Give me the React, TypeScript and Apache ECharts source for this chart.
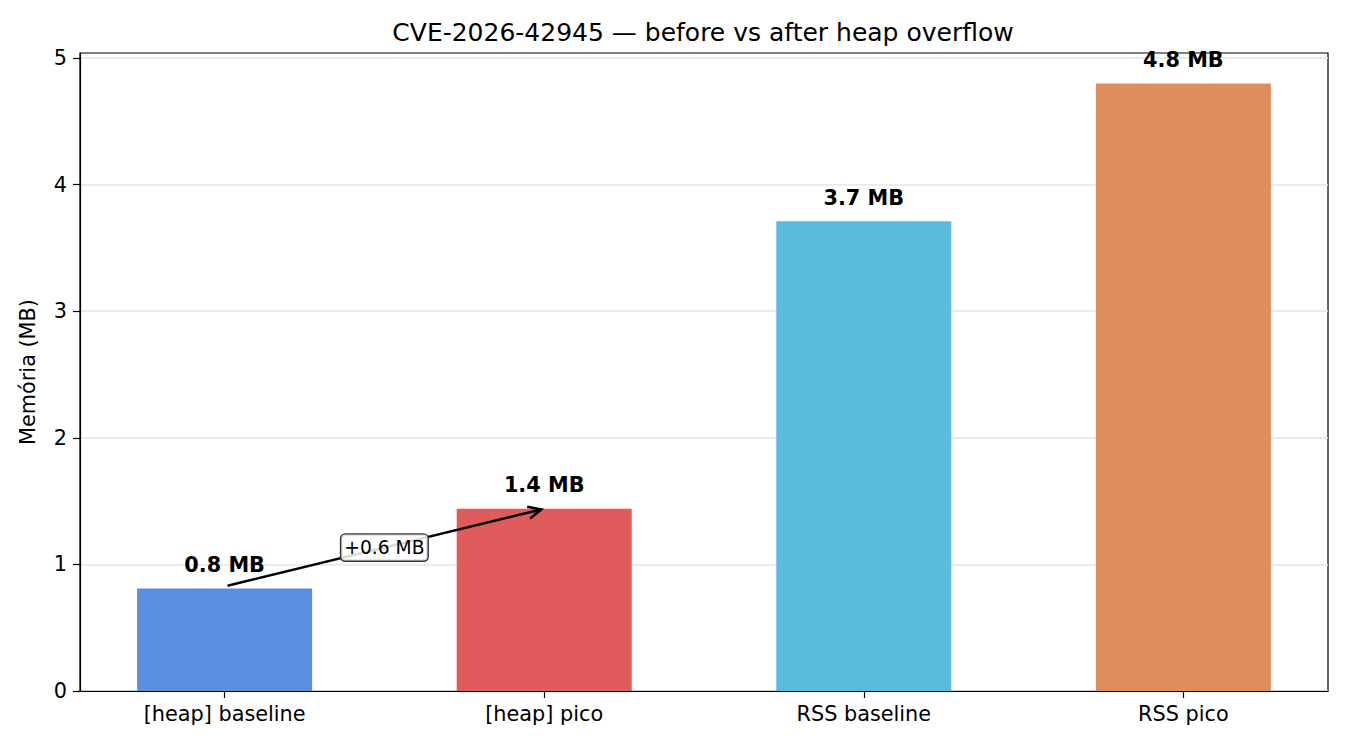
import React, { useEffect, useRef } from "react";
import * as echarts from "echarts";

const categories = ["[heap] baseline", "[heap] pico", "RSS baseline", "RSS pico"];
const values = [0.81, 1.44, 3.71, 4.8];
const barColors = ["#5B8DE0", "#E05C5C", "#5BBBDF", "#E08D5E"];
const yTicks = [0, 1, 2, 3, 4, 5];
const annotation = { from: [0, 0.81], to: [1, 1.44], text: "+0.6 MB" };

const FONT = "DejaVu Sans, Verdana, sans-serif";

export default function App() {
  const ref = useRef<HTMLDivElement>(null);
  useEffect(() => {
    if (!ref.current) return;
    const chart = echarts.init(ref.current, null, { renderer: "svg" });
    const option: any = {
      animation: false,
      backgroundColor: "#ffffff",
      textStyle: { fontFamily: FONT },
      title: {
        text: "CVE-2026-42945 — before vs after heap overflow",
        left: 698,
        textAlign: "center",
        top: 15,
        textStyle: { fontFamily: FONT, fontSize: 25, fontWeight: "normal", color: "#000" },
      },
      grid: {
        left: 80,
        right: 22,
        top: 53,
        bottom: 59,
        show: true,
        borderColor: "#000",
        borderWidth: 1.2,
        backgroundColor: "transparent",
      },
      xAxis: {
        type: "value",
        min: -0.4525,
        max: 3.4525,
        splitLine: { show: false },
        axisLine: { show: true, onZero: false, lineStyle: { color: "#000", width: 1.2 } },
        axisTick: {
          show: true,
          customValues: [0, 1, 2, 3],
          length: 7,
          lineStyle: { color: "#000", width: 1.2 },
        },
        axisLabel: {
          customValues: [0, 1, 2, 3],
          formatter: (v: number) => categories[Math.round(v)] ?? "",
          fontFamily: FONT,
          fontSize: 20.8,
          color: "#000",
          margin: 12,
        },
      },
      yAxis: {
        type: "value",
        min: 0,
        max: 5.04,
        interval: 1,
        name: "Memória (MB)",
        nameLocation: "middle",
        nameGap: 42,
        nameTextStyle: { fontFamily: FONT, fontSize: 20.8, color: "#000" },
        axisLine: { show: true, onZero: false, lineStyle: { color: "#000", width: 1.2 } },
        axisTick: {
          show: true,
          customValues: yTicks,
          length: 7,
          lineStyle: { color: "#000", width: 1.2 },
        },
        axisLabel: {
          customValues: yTicks,
          formatter: (v: number) => (Number.isInteger(v) ? String(v) : ""),
          fontFamily: FONT,
          fontSize: 20.8,
          color: "#000",
          margin: 13,
        },
        splitLine: { show: true, lineStyle: { color: "#e6e6e6", width: 1.5 } },
      },
      series: [
        {
          type: "bar",
          barWidth: 175,
          data: values.map((v, i) => ({
            value: [i, v],
            itemStyle: { color: barColors[i] },
          })),
          label: {
            show: true,
            position: "top",
            distance: 13,
            formatter: (p: any) => `${p.value[1].toFixed(1)} MB`,
            fontFamily: FONT,
            fontSize: 20.8,
            fontWeight: "bold",
            color: "#000",
          },
          z: 2,
        },
        {
          type: "custom",
          z: 5,
          encode: { x: [0, 2], y: [1, 3] },
          data: [[annotation.from[0], annotation.from[1], annotation.to[0], annotation.to[1]]],
          renderItem: (params: any, api: any) => {
            const p0 = api.coord([api.value(0), api.value(1)]);
            const p1 = api.coord([api.value(2), api.value(3)]);
            const dx = p1[0] - p0[0];
            const dy = p1[1] - p0[1];
            const len = Math.sqrt(dx * dx + dy * dy);
            const ux = dx / len;
            const uy = dy / len;
            const s = [p0[0] + ux * 3, p0[1] + uy * 3 - 2];
            const e = [p1[0] - ux * 3, p1[1] - uy * 3];
            const hl = 13;
            const hw = 6;
            const b = [e[0] - ux * hl, e[1] - uy * hl];
            const h1 = [b[0] - uy * hw, b[1] + ux * hw];
            const h2 = [b[0] + uy * hw, b[1] - ux * hw];
            const mid = api.coord([
              (api.value(0) + api.value(2)) / 2,
              (api.value(1) + api.value(3)) / 2,
            ]);
            const lineStyle = { stroke: "#000", lineWidth: 2.5, fill: null };
            return {
              type: "group",
              children: [
                {
                  type: "line",
                  shape: { x1: s[0], y1: s[1], x2: e[0], y2: e[1] },
                  style: lineStyle,
                },
                {
                  type: "polyline",
                  shape: { points: [h1, e, h2] },
                  style: { ...lineStyle, lineJoin: "miter" },
                },
                {
                  type: "text",
                  x: mid[0],
                  y: mid[1] - 1,
                  style: {
                    text: annotation.text,
                    align: "center",
                    verticalAlign: "middle",
                    fontFamily: FONT,
                    fontSize: 18.7,
                    fill: "#000",
                    backgroundColor: "rgba(255,255,255,0.85)",
                    borderColor: "#333",
                    borderWidth: 1.4,
                    borderRadius: 4,
                    padding: [4, 3, 3, 3],
                  },
                },
              ],
            };
          },
        },
      ],
    };
    chart.setOption(option);
    return () => chart.dispose();
  }, []);
  return (
    <div
      ref={ref}
      style={{ position: "fixed", left: 0, top: 0, width: 1350, height: 750, background: "#fff" }}
    />
  );
}
